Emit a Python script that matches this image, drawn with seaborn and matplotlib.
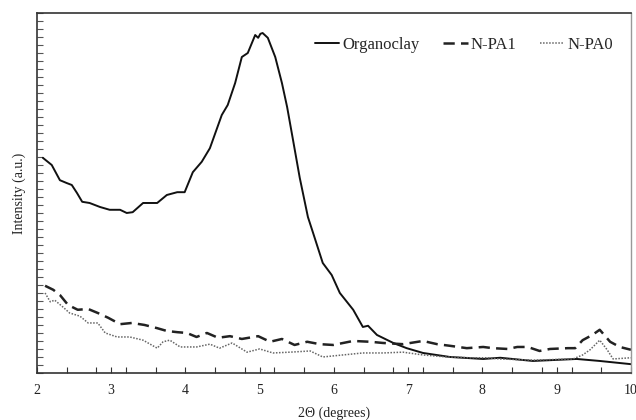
import numpy as np
import matplotlib
matplotlib.use("Agg")
import matplotlib.pyplot as plt
from matplotlib.ticker import MultipleLocator
import seaborn as sns

sns.set_theme(style="ticks")
plt.rcParams["font.family"] = ["Liberation Serif", "DejaVu Serif"]

# 2-theta (degrees) and intensity (a.u.)
org_x = [2.08, 2.20, 2.31, 2.40, 2.47, 2.54, 2.61, 2.71, 2.85, 2.98, 3.12, 3.21, 3.29,
         3.43, 3.62, 3.75, 3.89, 3.99, 4.10, 4.22, 4.33, 4.49, 4.57, 4.67, 4.76, 4.84,
         4.94, 4.98, 5.01, 5.04, 5.11, 5.21, 5.30, 5.37, 5.45, 5.54, 5.65, 5.72, 5.85,
         5.97, 6.08, 6.26, 6.39, 6.46, 6.58, 6.80, 6.98, 7.20, 7.56, 8.01, 8.24, 8.68,
         9.27, 9.58, 10.0]
org_y = [26.9, 26.0, 24.1, 23.75, 23.5, 22.5, 21.4, 21.25, 20.75, 20.4, 20.4, 20.0, 20.1,
         21.25, 21.25, 22.25, 22.6, 22.6, 25.1, 26.4, 28.1, 32.25, 33.5, 36.25, 39.5, 40.0,
         42.25, 41.9, 42.4, 42.5, 41.9, 39.5, 36.25, 33.25, 29.1, 24.4, 19.5, 17.5, 13.75,
         12.25, 10.0, 7.9, 5.75, 5.9, 4.75, 3.75, 3.1, 2.5, 2.0, 1.75, 1.9, 1.5,
         1.75, 1.5, 1.1]

pa1_x = [2.11, 2.22, 2.31, 2.42, 2.55, 2.69, 2.82, 2.96, 3.12, 3.28, 3.45, 3.62, 3.75,
         3.89, 4.02, 4.15, 4.29, 4.44, 4.60, 4.76, 4.98, 5.14, 5.30, 5.47, 5.64, 5.81,
         5.99, 6.26, 6.49, 6.66, 6.93, 7.20, 7.39, 7.56, 7.79, 8.01, 8.14, 8.34, 8.47,
         8.61, 8.77, 8.91, 9.15, 9.25, 9.35, 9.48, 9.58, 9.72, 9.85, 10.0]
pa1_y = [10.9, 10.4, 9.75, 8.5, 7.9, 8.0, 7.5, 6.9, 6.1, 6.25, 6.0, 5.6, 5.25,
         5.1, 5.0, 4.5, 5.0, 4.4, 4.6, 4.25, 4.6, 3.9, 4.25, 3.5, 3.9, 3.6,
         3.5, 4.0, 3.9, 3.75, 3.6, 4.0, 3.6, 3.4, 3.1, 3.25, 3.1, 3.0, 3.25,
         3.25, 2.75, 3.0, 3.1, 3.1, 4.1, 4.75, 5.4, 3.9, 3.25, 2.9]

pa0_x = [2.11, 2.18, 2.24, 2.35, 2.44, 2.58, 2.69, 2.82, 2.92, 3.08, 3.25, 3.43, 3.62,
         3.70, 3.79, 3.93, 4.15, 4.33, 4.46, 4.63, 4.83, 5.00, 5.18, 5.41, 5.68, 5.85,
         6.12, 6.39, 6.66, 6.93, 7.20, 7.52, 7.83, 8.06, 8.24, 8.68, 9.22, 9.35, 9.45,
         9.58, 9.68, 9.76, 10.0]
pa0_y = [10.0, 8.9, 9.1, 8.25, 7.5, 7.1, 6.25, 6.25, 5.0, 4.5, 4.5, 4.1, 3.1,
         3.9, 4.1, 3.25, 3.25, 3.6, 3.1, 3.75, 2.6, 3.0, 2.5, 2.6, 2.75, 2.0,
         2.25, 2.5, 2.5, 2.6, 2.25, 2.0, 1.9, 1.9, 1.75, 1.6, 1.75, 2.25, 2.9,
         4.1, 2.9, 1.75, 1.9]

fig = plt.figure(figsize=(6.36, 4.2), dpi=100)
ax = fig.add_axes([0.058, 0.112, 0.934, 0.857])

sns.lineplot(ax=ax, x=org_x, y=org_y, color="#111111", linewidth=1.4,
             label="Organoclay", errorbar=None)
sns.lineplot(ax=ax, x=pa1_x, y=pa1_y, color="#222222", linewidth=1.8,
             linestyle=(0, (4.5, 2.5)), label="N-PA1", errorbar=None)
sns.lineplot(ax=ax, x=pa0_x, y=pa0_y, color="#666666", linewidth=1.1,
             linestyle=(0, (1, 1)), label="N-PA0", errorbar=None)

ax.set_xlim(2, 10)
ax.set_ylim(0, 45)
ax.set_xticks(range(2, 11))
ax.xaxis.set_minor_locator(MultipleLocator(0.4))
ax.set_yticks(np.arange(0, 46, 1))
ax.set_yticklabels([])
ax.tick_params(axis="x", which="both", direction="in", length=4, width=0.8,
               colors="#333333", labelsize=10, pad=8, labelcolor="#222222")
ax.tick_params(axis="y", direction="in", length=4, width=0.8, colors="#555555")
ax.tick_params(top=False, right=False)

for side in ["left", "bottom", "top"]:
    ax.spines[side].set_color("#333333")
    ax.spines[side].set_linewidth(1.2)
ax.spines["right"].set_color("#999999")
ax.spines["right"].set_linewidth(1.0)

ax.set_xlabel("2Θ (degrees)", fontsize=10, color="#222222", labelpad=7)
ax.set_ylabel("Intensity (a.u.)", fontsize=10, color="#222222", labelpad=4)

ax.legend(loc="center right", bbox_to_anchor=(0.97, 0.911), ncol=3, frameon=False,
          fontsize=12, handlelength=1.45, handletextpad=0.2, columnspacing=1.4,
          borderaxespad=0, borderpad=0)

fig.savefig("out.png", dpi=100)
